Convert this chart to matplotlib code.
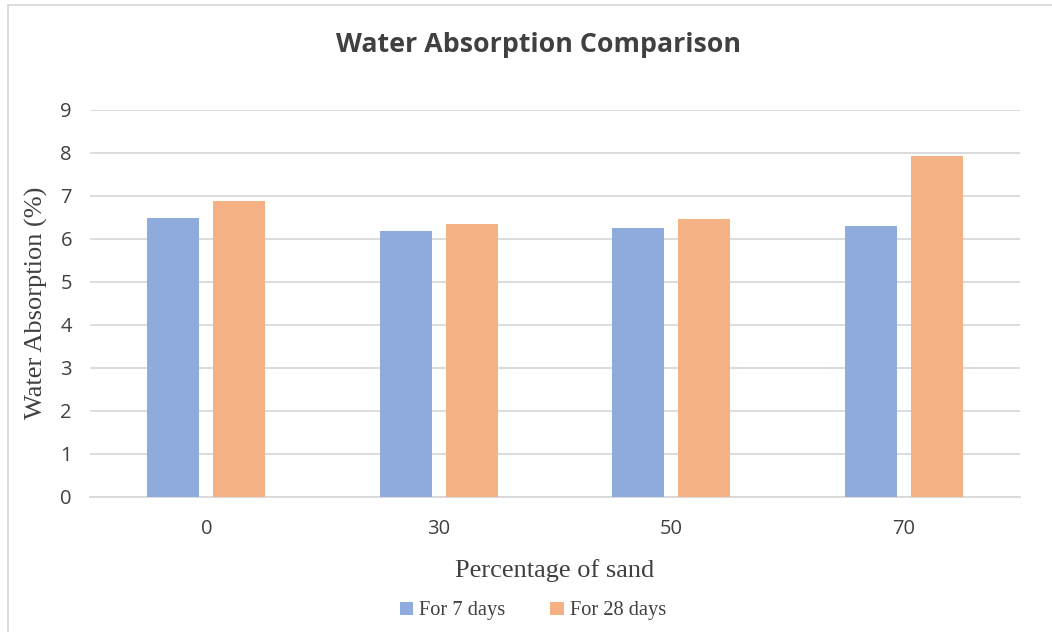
import numpy as np
import matplotlib
matplotlib.use('Agg')
import matplotlib.pyplot as plt
from matplotlib.lines import Line2D

sand = ['0', '30', '50', '70']
days7 = [6.47, 6.18, 6.25, 6.30]
days28 = [6.87, 6.34, 6.46, 7.92]
yticks = [0, 1, 2, 3, 4, 5, 6, 7, 8, 9]

blue = '#8FAADC'
orange = '#F4B183'
grid_c = '#D9D9D9'

fig = plt.figure(figsize=(10.52, 6.32), dpi=100)
ax = fig.add_axes([90 / 1052, 1 - 497 / 632, 930 / 1052, (497 - 109.5) / 632])

x = np.arange(len(sand))
w = 0.224
off = 0.142
ax.bar(x - off, days7, width=w, color=blue, label='For 7 days', zorder=3)
ax.bar(x + off, days28, width=w, color=orange, label='For 28 days', zorder=3)

ax.set_xlim(-0.5, 3.5)
ax.set_ylim(0, 9)
ax.set_yticks(yticks)
ax.set_xticks(x)
ax.set_xticklabels(sand)
ax.grid(axis='y', color=grid_c, linewidth=1.3, zorder=0)
for s in ['top', 'right', 'left']:
    ax.spines[s].set_visible(False)
ax.spines['bottom'].set_color(grid_c)
ax.spines['bottom'].set_linewidth(1.3)
ax.tick_params(length=0, labelsize=14.5, labelcolor='#404040')
for lab in ax.get_xticklabels() + ax.get_yticklabels():
    lab.set_fontfamily('Open Sans')
ax.tick_params(axis='x', pad=16)
ax.tick_params(axis='y', pad=13)

ax.set_ylabel('Water Absorption (%)', fontfamily='Liberation Serif', fontsize=19,
              color='#404040', labelpad=9)
ax.set_xlabel('Percentage of sand', fontfamily='Liberation Serif', fontsize=19,
              color='#404040', labelpad=14)

fig.text(538 / 1052, 1 - 45 / 632, 'Water Absorption Comparison', ha='center', va='center',
         fontsize=19.3, fontweight='bold', fontfamily='Open Sans', color='#404040')

leg = fig.legend(loc='center', bbox_to_anchor=(533 / 1052, 1 - 611 / 632), ncol=2,
                 frameon=False, prop={'family': 'Liberation Serif', 'size': 14.7},
                 handlelength=0.65, handleheight=0.65, columnspacing=2.2, handletextpad=0.3)
for t in leg.get_texts():
    t.set_color('#404040')

# chart area border (left and top edges)
fig.add_artist(Line2D([7.5 / 1052, 7.5 / 1052], [0, 1 - 5 / 632], color=grid_c, lw=1.3,
                      transform=fig.transFigure))
fig.add_artist(Line2D([7.5 / 1052, 1], [1 - 5 / 632, 1 - 5 / 632], color=grid_c, lw=1.3,
                      transform=fig.transFigure))

fig.savefig('out.png', dpi=100)
